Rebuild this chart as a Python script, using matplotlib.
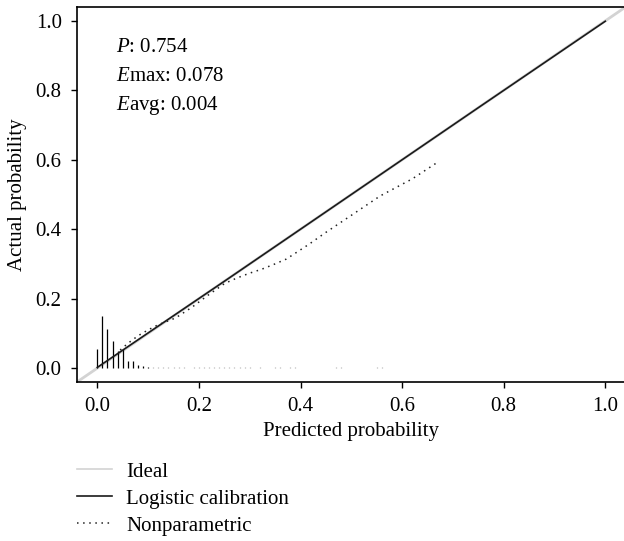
import matplotlib
matplotlib.use("Agg")
import matplotlib.pyplot as plt
import numpy as np

plt.rcParams['font.family'] = ['Liberation Serif', 'DejaVu Serif']
plt.rcParams['mathtext.fontset'] = 'custom'
plt.rcParams['mathtext.rm'] = 'Liberation Serif'
plt.rcParams['mathtext.it'] = 'Liberation Serif:italic'

# Spike histogram of predicted probabilities
spike_x = [0.00, 0.01, 0.02, 0.03, 0.04, 0.05, 0.06, 0.07, 0.08, 0.09, 0.10,
           0.11, 0.12, 0.13, 0.14, 0.15, 0.16, 0.17, 0.19, 0.20, 0.21, 0.22,
           0.23, 0.24, 0.25, 0.26, 0.27, 0.28, 0.29, 0.30, 0.32, 0.35, 0.36,
           0.38, 0.39, 0.47, 0.48, 0.55, 0.56]
spike_h = [0.056, 0.150, 0.114, 0.078, 0.050, 0.054, 0.021, 0.021, 0.010, 0.007, 0.004,
           0.003, 0.003, 0.003, 0.003, 0.003, 0.003, 0.003, 0.002, 0.002, 0.002, 0.002,
           0.002, 0.002, 0.002, 0.002, 0.002, 0.002, 0.002, 0.002, 0.002, 0.002, 0.002,
           0.002, 0.002, 0.002, 0.002, 0.002, 0.002]

# Logistic calibration curve
logistic_x = [0.0, 0.25, 0.5, 0.75, 1.0]
logistic_y = [0.002, 0.25, 0.5, 0.75, 0.999]

# Nonparametric (loess) curve
nonpar_x = [0.045, 0.06, 0.08, 0.10, 0.12, 0.1535, 0.186, 0.218, 0.251, 0.274, 0.299,
            0.324, 0.348, 0.372, 0.394, 0.417, 0.448, 0.50, 0.557, 0.62, 0.671]
nonpar_y = [0.052, 0.071, 0.093, 0.110, 0.125, 0.144, 0.175, 0.210, 0.244, 0.259, 0.273,
            0.285, 0.299, 0.314, 0.335, 0.357, 0.389, 0.44, 0.496, 0.545, 0.594]

stats_labels = [r"$\it{P}$: 0.754", r"$\it{E}$max: 0.078", r"$\it{E}$avg: 0.004"]
ticks = [0.0, 0.2, 0.4, 0.6, 0.8, 1.0]
tick_labels = ["0.0", "0.2", "0.4", "0.6", "0.8", "1.0"]

FS = 15
fig = plt.figure(figsize=(6.24, 5.41), dpi=100)
ax = fig.add_axes([77/624, (541-382)/541, 548.6/624, 375/541])

ideal = ax.axline((0, 0), slope=1, color='#d3d3d3', lw=2.0, label='Ideal', zorder=1)
logi, = ax.plot(logistic_x, logistic_y, color='#1a1a1a', lw=1.2, label='Logistic calibration', zorder=3)
nonp, = ax.plot(nonpar_x, nonpar_y, color='#222222', lw=1.1, linestyle=(0, (1, 3)),
                label='Nonparametric', zorder=3)

sx = np.array(spike_x)
sh = np.array(spike_h)
big = sh > 0.0035
ax.vlines(sx[big], 0, sh[big], color='black', lw=0.9, zorder=2)
ax.vlines(sx[~big], 0, sh[~big], color='#b0b0b0', lw=0.9, zorder=2)

ax.set_xlim(-0.04, 1.04)
ax.set_ylim(-0.04, 1.04)
ax.set_xticks(ticks)
ax.set_xticklabels(tick_labels)
ax.set_yticks(ticks)
ax.set_yticklabels(tick_labels)
ax.tick_params(direction='out', length=4, width=1, labelsize=FS, color='black')
ax.tick_params(axis='y', pad=7)
ax.tick_params(axis='x', pad=7)
ax.spines['right'].set_visible(False)
for s in ['left', 'bottom', 'top']:
    ax.spines[s].set_linewidth(1.2)

ax.set_xlabel('Predicted probability', fontsize=FS, labelpad=4)
ax.set_ylabel('Actual probability', fontsize=FS, labelpad=6)

for i, lab in enumerate(stats_labels):
    ax.text(0.037, 0.911 - i*0.0835, lab, fontsize=FS, ha='left', va='baseline')

leg = fig.legend(handles=[ideal, logi, nonp], labels=['Ideal', 'Logistic calibration', 'Nonparametric'],
                 loc='upper left', bbox_to_anchor=(73/624, 1 - 458/541), frameon=False,
                 fontsize=FS, handlelength=1.65, handletextpad=0.7, labelspacing=0.35,
                 borderpad=0.2, borderaxespad=0)
leg.get_lines()[0].set_linewidth(1.2)

fig.savefig('out.png', dpi=100)
